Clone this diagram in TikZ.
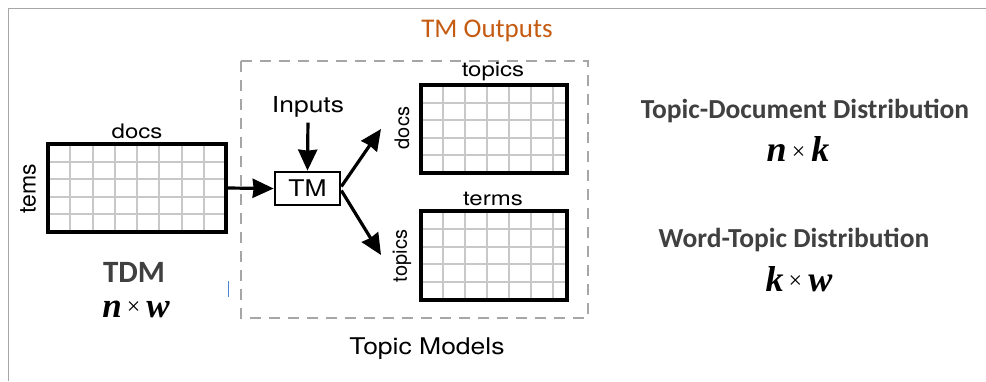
\documentclass[tikz,border=0pt]{standalone}
\usepackage{fontspec}
\usetikzlibrary{arrows.meta}
\newfontfamily\helv{TeX Gyre Heros}
\newfontfamily\calib{Carlito}
\newfontfamily\timesf{Liberation Serif}
\definecolor{outorange}{HTML}{C55A11}
\definecolor{darktxt}{HTML}{404040}
\definecolor{gridgray}{HTML}{C8C8C8}
\definecolor{framegray}{HTML}{A6A6A6}
\definecolor{tickblue}{HTML}{4A86D0}
\newcommand{\fsz}[1]{\fontsize{#1}{#1}\selectfont}
% bold italic product dimension: #1 x #2, letters at size #3, sign at size #4
\newcommand{\dimtxt}[4]{{\timesf\fsz{#3}\bfseries\itshape #1}\hspace{5pt}{\timesf\fsz{#4}\raisebox{0.1em}{×}}\hspace{6pt}{\timesf\fsz{#3}\bfseries\itshape #2}}
\begin{document}
\begin{tikzpicture}[x=1pt,y=-1pt,
  lbl/.style={font=\helv\fsz{20}, inner sep=0pt, xscale=1.2},
  rlbl/.style={font=\helv\fsz{20}, inner sep=0pt, rotate=90},
  matbox/.style={inner sep=0pt, outer sep=0pt},
  matborder/.style={draw=black, line width=3.4pt},
  gridline/.style={draw=gridgray, line width=2pt},
  arr/.style={draw=black, line width=3.2pt, -{Stealth[length=21pt,width=19pt,inset=1pt]}},
  dist/.style={font=\calib\fsz{27.5}\bfseries, text=darktxt, inner sep=0pt}]
\useasboundingbox (0,0) rectangle (986,381);
% slide frame
\draw[framegray, line width=1pt] (8,381) -- (8,8) -- (986,8);

% dashed topic-model box
\draw[framegray, line width=2.7pt, dash pattern=on 11pt off 8pt] (241,61) rectangle (588,318);
\node[font=\calib\fsz{27}, text=outorange, inner sep=0pt] (outs) at (487,31) {TM Outputs};
\node[lbl, font=\helv\fsz{23}, xscale=0.96] (tmod) at (427,349) {Topic Models};

% term-document matrix
\node[matbox, minimum width=178pt, minimum height=88pt] (tdm) at (137,188) {};
\foreach \i in {1,...,7}
  \draw[gridline] ([xshift=\i*22.25pt]tdm.north west) -- ([xshift=\i*22.25pt]tdm.south west);
\foreach \j in {1,...,4}
  \draw[gridline] ([yshift=-\j*17.6pt]tdm.north west) -- ([yshift=-\j*17.6pt]tdm.north east);
\draw[matborder] (tdm.north west) rectangle (tdm.south east);
\node[lbl] (tdmdocs) at (137,131) {docs};
\node[rlbl, font=\helv\fsz{23}] (tdmterms) at (28,189) {tems};
\node[font=\calib\fsz{31}\bfseries, text=darktxt, inner sep=0pt] (tdmlab) at (134,272) {TDM};
\node[inner sep=0pt] (tdmdim) at (136,309) {\dimtxt{n}{w}{35}{24}};
\draw[tickblue, line width=1pt] (228,281) -- (228,297);

% topic model box and inputs
\node[draw=black, line width=2.7pt, minimum width=65pt, minimum height=33pt, inner sep=0pt,
      font=\helv\fsz{23}] (tm) at (307.5,188.5) {\scalebox{1.15}[1]{TM}};
\node[lbl, font=\helv\fsz{22}] (inputs) at (308,107) {Inputs};

% document-topic matrix
\node[matbox, minimum width=146pt, minimum height=88pt] (dt) at (494,129) {};
\foreach \i in {1,...,6}
  \draw[gridline] ([xshift=\i*22pt]dt.north west) -- ([xshift=\i*22pt]dt.south west);
\foreach \j in {1,...,4}
  \draw[gridline] ([yshift=-\j*17.6pt]dt.north west) -- ([yshift=-\j*17.6pt]dt.north east);
\draw[matborder] (dt.north west) rectangle (dt.south east);
\node[lbl] (dttopics) at (493,72) {topics};
\node[rlbl] (dtdocs) at (402,128) {docs};

% topic-term matrix
\node[matbox, minimum width=146pt, minimum height=89pt] (tt) at (494,255.5) {};
\foreach \i in {1,...,6}
  \draw[gridline] ([xshift=\i*22pt]tt.north west) -- ([xshift=\i*22pt]tt.south west);
\foreach \j in {1,...,4}
  \draw[gridline] ([yshift=-\j*17.8pt]tt.north west) -- ([yshift=-\j*17.8pt]tt.north east);
\draw[matborder] (tt.north west) rectangle (tt.south east);
\node[lbl] (ttterms) at (493,199) {terms};
\node[rlbl] (tttopics) at (402,256) {topics};

% connectors
\coordinate (docend) at (381,129);
\coordinate (topend) at (381,255);
\draw[arr] (tdm.east) -- (tm.west);
\draw[arr, shorten <=5pt] (inputs.south) -- (tm.north);
\draw[arr] ([yshift=2pt]tm.east) -- (docend);
\draw[arr] ([yshift=-2pt]tm.east) -- (topend);

% distribution captions
\node[dist] (tdd) at (805,111) {Topic-Document Distribution};
\node[inner sep=0pt] (tdddim) at (798,149) {\dimtxt{n}{k}{36}{24}};
\node[dist] (wtd) at (794,240) {Word-Topic Distribution};
\node[inner sep=0pt] (wtddim) at (799,279) {\dimtxt{k}{w}{36}{24}};
\end{tikzpicture}
\end{document}
